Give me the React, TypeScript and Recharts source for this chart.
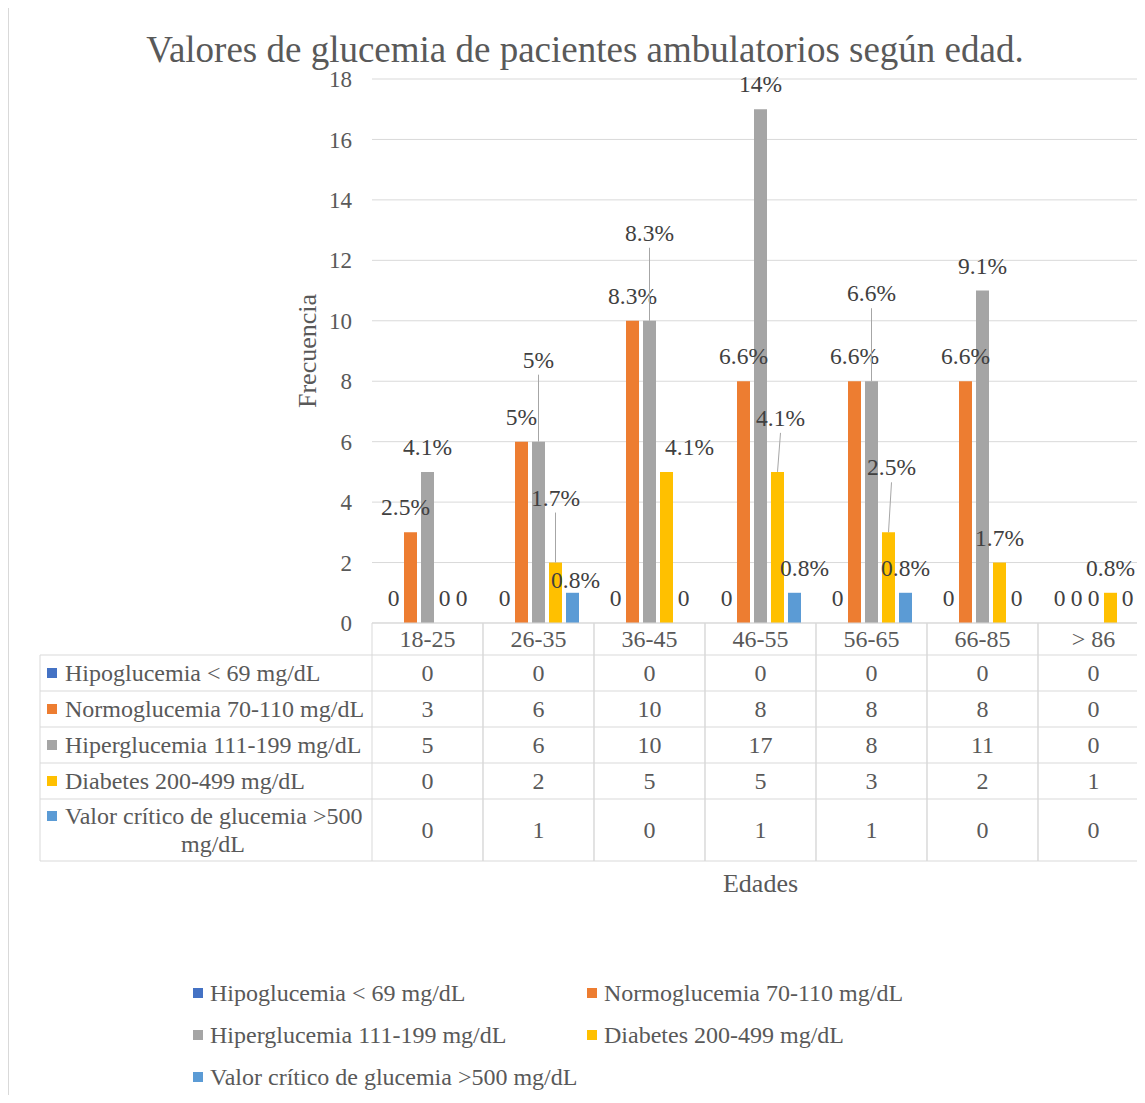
import React from 'react'
import { Bar, BarChart, CartesianGrid, LabelList, Legend, XAxis, YAxis } from 'recharts'

const categories = ['18-25', '26-35', '36-45', '46-55', '56-65', '66-85', '> 86']
const hipo = [0, 0, 0, 0, 0, 0, 0]
const normo = [3, 6, 10, 8, 8, 8, 0]
const hiper = [5, 6, 10, 17, 8, 11, 0]
const diab = [0, 2, 5, 5, 3, 2, 1]
const critico = [0, 1, 0, 1, 1, 0, 0]

// data label texts as shown on the chart
const hipoLbl = ['0', '0', '0', '0', '0', '0', '0']
const normoLbl = ['2.5%', '5%', '8.3%', '6.6%', '6.6%', '6.6%', '0']
const hiperLbl = ['4.1%', '5%', '8.3%', '14%', '6.6%', '9.1%', '0']
const diabLbl = ['0', '1.7%', '4.1%', '4.1%', '2.5%', '1.7%', '0.8%']
const criticoLbl = ['0', '0.8%', '0', '0.8%', '0.8%', '0', '0']

const yTicks = [0, 2, 4, 6, 8, 10, 12, 14, 16, 18]

const FONT = '"Liberation Serif", "Times New Roman", serif'
const TEXT = '#595959'
const GRID = '#d9d9d9'

const SERIES = [
  { key: 'hipo', name: 'Hipoglucemia < 69 mg/dL', color: '#4472C4', values: hipo, labels: hipoLbl },
  { key: 'normo', name: 'Normoglucemia 70-110 mg/dL', color: '#ED7D31', values: normo, labels: normoLbl },
  { key: 'hiper', name: 'Hiperglucemia 111-199 mg/dL', color: '#A5A5A5', values: hiper, labels: hiperLbl },
  { key: 'diab', name: 'Diabetes 200-499 mg/dL', color: '#FFC000', values: diab, labels: diabLbl },
  { key: 'critico', name: 'Valor crítico de glucemia >500 mg/dL', color: '#5B9BD5', values: critico, labels: criticoLbl },
]

// label nudges [dx, dy, leader line]
const LABEL_SHIFT: Record<string, Record<number, [number, number, boolean?]>> = {
  normo: { 0: [-5, 0] },
  hiper: { 1: [0, -57, true], 2: [0, -63, true], 4: [0, -63, true] },
  diab: { 1: [0, -40, true], 2: [23, 0], 3: [3, -29, true], 4: [3, -40, true] },
  critico: { 1: [3, 12], 3: [10, 0] },
}

const data = categories.map((name, i) => {
  const row: Record<string, string | number> = { name }
  SERIES.forEach((s) => { row[s.key] = s.values[i] })
  return row
})

const PLOT_LEFT = 372
const PLOT_RIGHT = 1149
const COL_W = (PLOT_RIGHT - PLOT_LEFT) / categories.length
const ROW_LINES = [655, 691, 727, 763, 799, 861]
const TABLE_LEFT = 40

function makeLabel(seriesKey: string, labels: string[]) {
  // eslint-disable-next-line @typescript-eslint/no-explicit-any
  return (p: any) => {
    const bx = Number(p.x) + Number(p.width) / 2
    const idx = Math.floor((bx - PLOT_LEFT) / COL_W)
    const shift = LABEL_SHIFT[seriesKey]?.[idx]
    const top = Number(p.y) + Math.min(0, Number(p.height))
    const cx = bx + (shift ? shift[0] : 0)
    const cy = top - 25 + (shift ? shift[1] : 0)
    return (
      <g>
        {shift && shift[2] && <line x1={cx} y1={cy + 15} x2={bx} y2={top} stroke="#a6a6a6" strokeWidth={1} />}
        <text x={cx} y={cy} textAnchor="middle" dominantBaseline="central"
          fontFamily={FONT} fontSize={23.5} fill="#404040">{labels[idx]}</text>
      </g>
    )
  }
}

// eslint-disable-next-line @typescript-eslint/no-explicit-any
function TableTick(props: any) {
  const { x, y, payload } = props
  const i = payload.index as number
  const l = x - COL_W / 2
  const r = x + COL_W / 2
  const rowCenters = ROW_LINES.slice(0, -1).map((v, k) => (v + ROW_LINES[k + 1]) / 2)
  return (
    <g fontFamily={FONT} fontSize={24} fill={TEXT}>
      <line x1={l} y1={y} x2={l} y2={861} stroke={GRID} />
      <line x1={r} y1={y} x2={r} y2={861} stroke={GRID} />
      <text x={x} y={y + 16} textAnchor="middle" dominantBaseline="central">{payload.value}</text>
      {ROW_LINES.map((ly) => <line key={ly} x1={l} y1={ly} x2={r} y2={ly} stroke={GRID} />)}
      {SERIES.map((s, k) => (
        <text key={s.key} x={x} y={rowCenters[k]} textAnchor="middle" dominantBaseline="central">{s.values[i]}</text>
      ))}
      {i === 0 && (
        <g>
          <line x1={TABLE_LEFT} y1={ROW_LINES[0]} x2={TABLE_LEFT} y2={861} stroke={GRID} />
          {ROW_LINES.map((ly) => <line key={ly} x1={TABLE_LEFT} y1={ly} x2={l} y2={ly} stroke={GRID} />)}
          {SERIES.map((s, k) => {
            const last = k === SERIES.length - 1
            const cy = last ? rowCenters[k] - 14 : rowCenters[k]
            return (
              <g key={s.key}>
                <rect x={47} y={cy - 5} width={10} height={10} fill={s.color} />
                {last ? (
                  <>
                    <text x={65} y={cy} dominantBaseline="central">Valor crítico de glucemia &gt;500</text>
                    <text x={213} y={cy + 28} textAnchor="middle" dominantBaseline="central">mg/dL</text>
                  </>
                ) : (
                  <text x={65} y={cy} dominantBaseline="central">{s.name}</text>
                )}
              </g>
            )
          })}
        </g>
      )}
    </g>
  )
}

function LegendBox() {
  const cols = [193, 587]
  const rows = [20, 62, 104]
  return (
    <div style={{ position: 'relative', height: 130, width: 1150, fontFamily: FONT, fontSize: 24, color: TEXT }}>
      {SERIES.map((s, k) => (
        <div key={s.key} style={{ position: 'absolute', left: cols[k % 2], top: rows[Math.floor(k / 2)] - 14, height: 28,
          display: 'flex', alignItems: 'center', whiteSpace: 'nowrap' }}>
          <span style={{ display: 'inline-block', width: 10, height: 10, background: s.color, marginRight: 7 }} />
          {s.name}
        </div>
      ))}
    </div>
  )
}

export default function App() {
  return (
    <div style={{ position: 'relative', margin: -8, width: 1145, height: 1103, overflow: 'hidden', background: '#fff' }}>
      <div style={{ position: 'absolute', left: 8, top: 7, width: 1200, height: 1200,
        borderLeft: `1px solid ${GRID}`, borderTop: `1px solid ${GRID}` }} />
      <div style={{ position: 'absolute', left: 0, width: 1170, top: 26, textAlign: 'center',
        fontFamily: FONT, fontSize: 37, color: TEXT, whiteSpace: 'nowrap', lineHeight: '48px' }}>
        Valores de glucemia de pacientes ambulatorios según edad.
      </div>
      <div style={{ position: 'absolute', left: 0, top: 0 }}>
        <BarChart width={1150} height={1103} data={data} barSize={13} barGap={4}
          margin={{ top: 79, right: 1, bottom: 0, left: 300 }}>
          <CartesianGrid vertical={false} stroke={GRID} />
          <XAxis dataKey="name" height={350} interval={0} tickSize={0} tickMargin={0} tickLine={false}
            axisLine={{ stroke: GRID }} tick={<TableTick />}
            // eslint-disable-next-line @typescript-eslint/no-explicit-any
            label={{ content: (p: any) => (
              <text x={p.viewBox.x + p.viewBox.width / 2} y={883} textAnchor="middle" dominantBaseline="central"
                fontFamily={FONT} fontSize={26} fill={TEXT}>Edades</text>
            ) }} />
          <YAxis width={72} domain={[0, 18]} ticks={yTicks} tickSize={0} tickMargin={20} tickLine={false}
            axisLine={false} tick={{ fontFamily: FONT, fontSize: 23, fill: TEXT }}
            // eslint-disable-next-line @typescript-eslint/no-explicit-any
            label={{ content: () => (
              <text x={307} y={351} textAnchor="middle" dominantBaseline="central" transform="rotate(-90 307 351)"
                fontFamily={FONT} fontSize={26} fill={TEXT}>Frecuencia</text>
            ) }} />
          <Legend verticalAlign="bottom" wrapperStyle={{ left: 0, width: 1150, height: 130 }} content={<LegendBox />} />
          {SERIES.map((s) => (
            <Bar key={s.key} dataKey={s.key} name={s.name} fill={s.color} minPointSize={0.01} isAnimationActive={false}>
              <LabelList dataKey={s.key} content={makeLabel(s.key, s.labels)} />
            </Bar>
          ))}
        </BarChart>
      </div>
    </div>
  )
}
